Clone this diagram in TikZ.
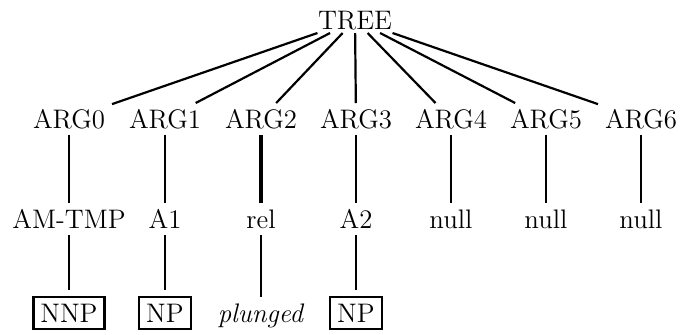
\documentclass[tikz,border=0pt]{standalone}
\usepackage{xcolor}
\usepackage{tikz}

\begin{document}
\begin{tikzpicture}[x=0.5pt, y=-0.5pt, every node/.style={inner sep=0pt, outer sep=3.5pt, text height=9pt, text depth=0pt, anchor=base, font=\fontsize{13.4}{16}\selectfont}, tagbox/.style={draw, line width=1.2pt, inner sep=3.5pt}, edge/.style={line width=1.1pt}]

    \useasboundingbox (0,0) rectangle (681,334);

    % Define nodes
    \node (tree) [outer sep=2pt] at (355,29) {TREE};

    \node (arg0) at (69,128) {ARG0};
    \node (arg1) at (165,128) {ARG1};
    \node (arg2) at (261,128) {ARG2};
    \node (arg3) at (356,128) {ARG3};
    \node (arg4) at (451,128) {ARG4};
    \node (arg5) at (546,128) {ARG5};
    \node (arg6) at (641,128) {ARG6};

    \node (tmp) at (69,228) {AM-TMP};
    \node (aone) at (165,228) {A1};
    \node (rel) at (261,228) {rel};
    \node (atwo) at (356,228) {A2};
    \node (null4) at (451,228) {null};
    \node (null5) at (546,228) {null};
    \node (null6) at (641,228) {null};

    \node (nnp) [tagbox] at (69,322) {NNP};
    \node (npone) [tagbox] at (165,322) {NP};
    \node (plunged) at (261,322) {\textit{plunged}};
    \node (nptwo) [tagbox] at (356,322) {NP};

    % Define connections
    \draw[edge] (tree) -- (arg0);
    \draw[edge] (tree) -- (arg1);
    \draw[edge] (tree) -- (arg2);
    \draw[edge] (tree) -- (arg3);
    \draw[edge] (tree) -- (arg4);
    \draw[edge] (tree) -- (arg5);
    \draw[edge] (tree) -- (arg6);

    \draw[edge] (arg0) -- (tmp);
    \draw[edge] (arg1) -- (aone);
    \draw[edge, line width=1.8pt] (arg2) -- (rel);
    \draw[edge] (arg3) -- (atwo);
    \draw[edge] (arg4) -- (null4);
    \draw[edge] (arg5) -- (null5);
    \draw[edge] (arg6) -- (null6);

    \draw[edge] (tmp) -- (nnp);
    \draw[edge] (aone) -- (npone);
    \draw[edge] (rel) -- (plunged);
    \draw[edge] (atwo) -- (nptwo);

\end{tikzpicture}
\end{document}
